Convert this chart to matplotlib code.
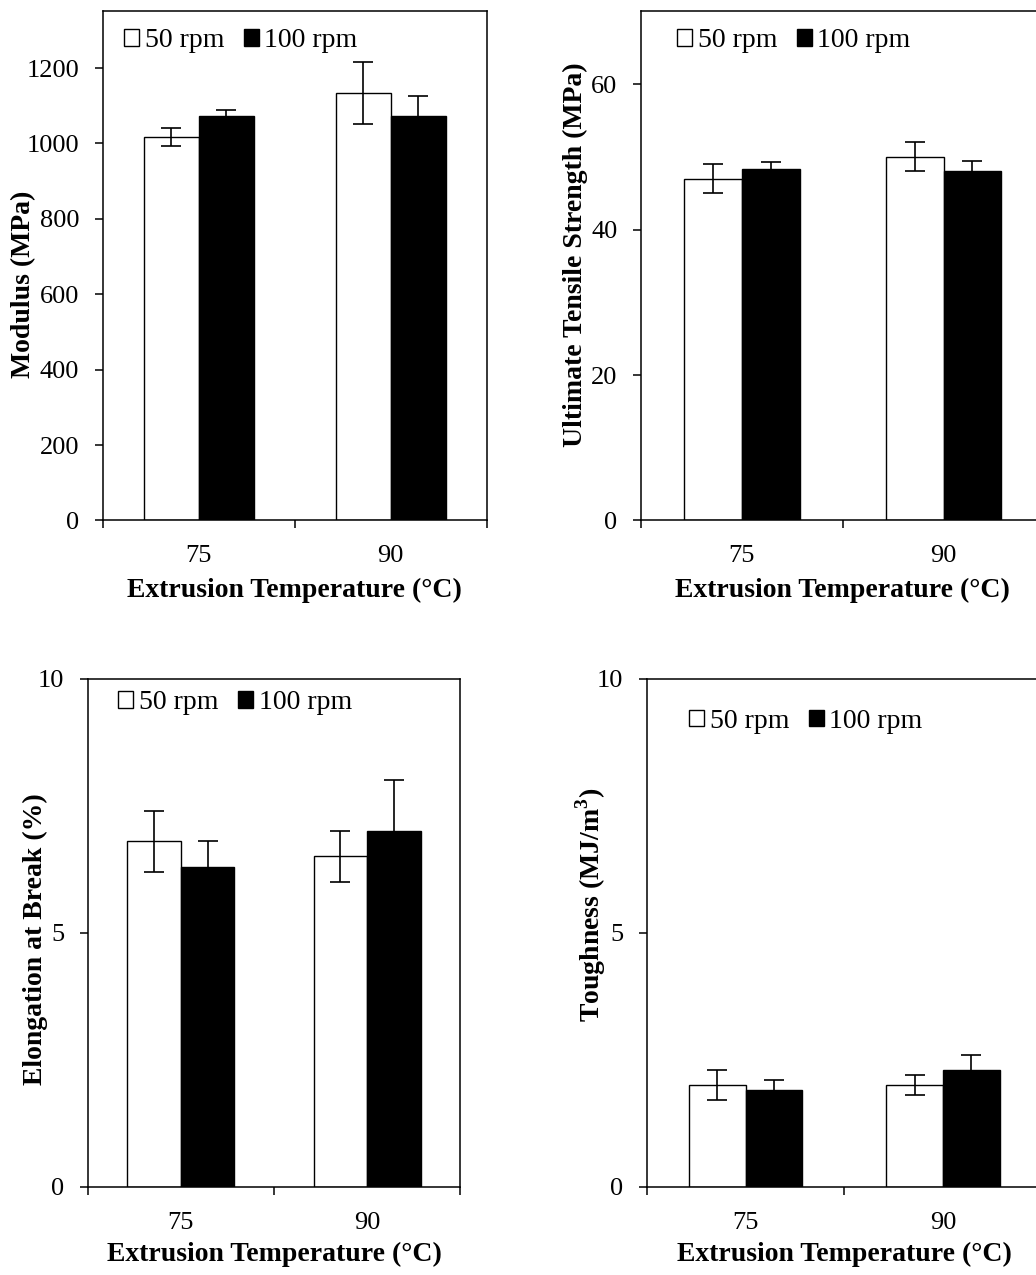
import numpy as np
import matplotlib
matplotlib.use("Agg")
import matplotlib.pyplot as plt
from matplotlib.ticker import FixedLocator, NullFormatter

plt.rcParams['font.family'] = ['Liberation Serif', 'DejaVu Serif']

# data
temps = ['75', '90']
series = ['50 rpm', '100 rpm']

modulus_50 = [1017, 1134]
modulus_50_err = [25, 83]
modulus_100 = [1073, 1072]
modulus_100_err = [15, 55]

uts_50 = [47.0, 50.0]
uts_50_err = [2.0, 2.0]
uts_100 = [48.3, 48.0]
uts_100_err = [1.0, 1.5]

elong_50 = [6.8, 6.5]
elong_50_err = [0.6, 0.5]
elong_100 = [6.3, 7.0]
elong_100_err = [0.5, 1.0]

tough_50 = [2.0, 2.0]
tough_50_err = [0.3, 0.2]
tough_100 = [1.9, 2.3]
tough_100_err = [0.2, 0.3]

W, H = 1036, 1275
fig = plt.figure(figsize=(W / 100, H / 100), dpi=100)

panels = [
    dict(v=(modulus_50, modulus_100), e=(modulus_50_err, modulus_100_err),
         ylabel='Modulus (MPa)', ylim=1350, yticks=[0, 200, 400, 600, 800, 1000, 1200],
         rect=[0.0991, 0.5918, 0.3707, 0.3992], lab=(-0.172, 0.463), xlab=-0.112,
         leg=(0.055, 0.942)),
    dict(v=(uts_50, uts_100), e=(uts_50_err, uts_100_err),
         ylabel='Ultimate Tensile Strength (MPa)', ylim=70, yticks=[0, 20, 40, 60],
         rect=[0.6187, 0.5918, 0.3894, 0.3992], lab=(-0.132, 0.522), xlab=-0.112,
         leg=(0.089, 0.942)),
    dict(v=(elong_50, elong_100), e=(elong_50_err, elong_100_err),
         ylabel='Elongation at Break (%)', ylim=10, yticks=[0, 5, 10],
         rect=[0.0847, 0.0693, 0.3597, 0.3985], lab=(-0.108, 0.487), xlab=-0.108,
         leg=(0.081, 0.952)),
    dict(v=(tough_50, tough_100), e=(tough_50_err, tough_100_err),
         ylabel='Toughness (MJ/m$^\\mathregular{3}$)', ylim=10, yticks=[0, 5, 10],
         rect=[0.6245, 0.0693, 0.3810, 0.3985], lab=(-0.098, 0.555), xlab=-0.108,
         leg=(0.106, 0.916)),
]

x = np.arange(len(temps)) + 0.5
w = 0.287

for p in panels:
    ax = fig.add_axes(p['rect'])
    ekw = dict(elinewidth=1.2, capthick=1.2, ecolor='black')
    ax.bar(x - w / 2, p['v'][0], w, yerr=p['e'][0], color='white', edgecolor='black',
           linewidth=1.0, capsize=7, error_kw=ekw, label=series[0])
    ax.bar(x + w / 2, p['v'][1], w, yerr=p['e'][1], color='black', edgecolor='black',
           linewidth=1.0, capsize=7, error_kw=ekw, label=series[1])

    ax.set_xlim(0, len(temps))
    ax.set_ylim(0, p['ylim'])
    ax.set_yticks(p['yticks'])
    ax.xaxis.set_major_locator(FixedLocator([0, 1, 2]))
    ax.xaxis.set_major_formatter(NullFormatter())
    ax.xaxis.set_minor_locator(FixedLocator(list(x)))
    ax.set_xticklabels(temps, minor=True)
    ax.tick_params(axis='x', which='major', direction='out', length=6, width=1.1)
    ax.tick_params(axis='x', which='minor', length=0, pad=18, labelsize=19)
    ax.tick_params(axis='y', direction='out', length=6, width=1.1, pad=11, labelsize=19)
    for s in ax.spines.values():
        s.set_linewidth(1.1)

    ax.set_ylabel(p['ylabel'], fontsize=20, fontweight='bold')
    ax.yaxis.set_label_coords(*p['lab'])
    ax.set_xlabel('Extrusion Temperature (°C)', fontsize=20, fontweight='bold')
    ax.xaxis.set_label_coords(0.5, p['xlab'])

    ax.legend(ncol=2, loc='center left', bbox_to_anchor=p['leg'], frameon=False,
              fontsize=20, handlelength=0.55, handleheight=0.55, handletextpad=0.2,
              columnspacing=0.7, borderpad=0, borderaxespad=0)

fig.savefig('out.png', dpi=100)
